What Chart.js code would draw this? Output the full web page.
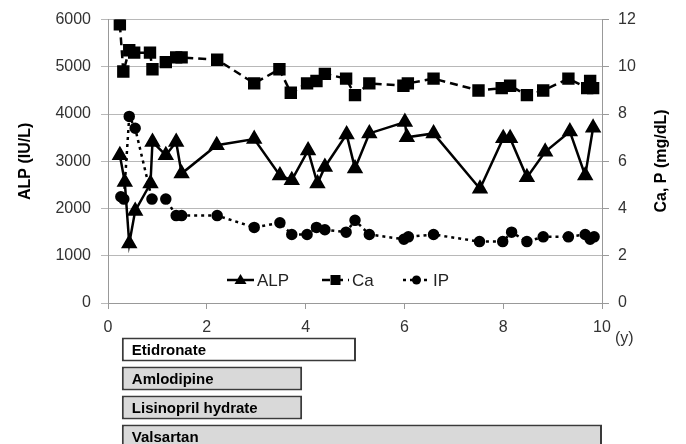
<!DOCTYPE html>
<html>
<head>
<meta charset="utf-8">
<script src="https://cdn.jsdelivr.net/npm/chart.js@4/dist/chart.umd.min.js"></script>
<style>
  html, body { margin: 0; padding: 0; background: #fff; }
  body { width: 686px; height: 444px; overflow: hidden; position: relative; }
  #main { position: absolute; left: 0; top: 0; }
  #drugs { position: absolute; left: 0; top: 335px; }
</style>
</head>
<body>
<canvas id="main" width="686" height="444"></canvas>
<canvas id="drugs" width="686" height="116"></canvas>
<script>
// years since start of treatment
const alpYears  = [0.24, 0.34, 0.43, 0.55, 0.86, 0.90, 1.17, 1.38, 1.49, 2.20, 2.96, 3.48, 3.72, 4.05, 4.24, 4.39, 4.83, 5.00, 5.29, 6.01, 6.05, 6.59, 7.53, 8.00, 8.14, 8.48, 8.85, 9.35, 9.66, 9.82];
const alpValues = [3130, 2560, 1260, 1950, 2530, 3410, 3130, 3410, 2740, 3340, 3470, 2700, 2600, 3230, 2530, 2880, 3570, 2850, 3590, 3830, 3510, 3590, 2420, 3490, 3490, 2660, 3200, 3630, 2700, 3710];

const caYears  = [0.24, 0.31, 0.43, 0.53, 0.85, 0.90, 1.17, 1.38, 1.49, 2.21, 2.96, 3.47, 3.70, 4.03, 4.22, 4.39, 4.82, 5.00, 5.29, 5.98, 6.07, 6.59, 7.50, 7.97, 8.14, 8.48, 8.81, 9.32, 9.70, 9.76, 9.82];
const caValues = [11.8, 9.8, 10.7, 10.6, 10.6, 9.9, 10.2, 10.4, 10.4, 10.3, 9.3, 9.9, 8.9, 9.3, 9.4, 9.7, 9.5, 8.8, 9.3, 9.2, 9.3, 9.5, 9.0, 9.1, 9.2, 8.8, 9.0, 9.5, 9.1, 9.4, 9.1];

const ipYears  = [0.26, 0.32, 0.43, 0.55, 0.89, 1.17, 1.38, 1.49, 2.21, 2.96, 3.48, 3.72, 4.03, 4.22, 4.39, 4.82, 5.00, 5.29, 5.99, 6.08, 6.59, 7.52, 7.99, 8.17, 8.48, 8.81, 9.32, 9.66, 9.76, 9.84];
const ipValues = [4.5, 4.4, 7.9, 7.4, 4.4, 4.4, 3.7, 3.7, 3.7, 3.2, 3.4, 2.9, 2.9, 3.2, 3.1, 3.0, 3.5, 2.9, 2.7, 2.8, 2.9, 2.6, 2.6, 3.0, 2.6, 2.8, 2.8, 2.9, 2.7, 2.8];

const yearTicks = [0, 2, 4, 6, 8, 10];
const alpTicks  = [0, 1000, 2000, 3000, 4000, 5000, 6000];
const mineralTicks = [0, 2, 4, 6, 8, 10, 12];

// medication periods
const drugNames  = ['Etidronate', 'Amlodipine', 'Lisinopril hydrate', 'Valsartan'];
const drugStarts = [0.28, 0.28, 0.28, 0.28];
const drugEnds   = [5.02, 3.93, 3.93, 10];

Chart.defaults.font.family = '"Liberation Sans", Arial, sans-serif';
Chart.defaults.color = '#333';

const pts = (xs, ys) => xs.map((x, i) => ({ x: x, y: ys[i] }));
const plain = v => String(v);

// legend drawn inside the plot, plus the right axis title and the "(y)" unit
const extrasPlugin = {
  id: 'extras',
  afterDraw(chart) {
    const ctx = chart.ctx;
    ctx.save();
    ctx.fillStyle = '#000';
    ctx.strokeStyle = '#000';

    const ly = 280;
    const items = [
      { x: 227, text: 'ALP', dash: [], marker: 'tri' },
      { x: 322, text: 'Ca', dash: [8, 5], marker: 'sq' },
      { x: 403, text: 'IP', dash: [3, 4], marker: 'dot' }
    ];
    ctx.font = '17px "Liberation Sans", Arial, sans-serif';
    ctx.textBaseline = 'middle';
    ctx.textAlign = 'left';
    items.forEach(it => {
      ctx.lineWidth = 2.5;
      ctx.setLineDash(it.dash);
      ctx.beginPath();
      ctx.moveTo(it.x, ly);
      ctx.lineTo(it.x + 27, ly);
      ctx.stroke();
      ctx.setLineDash([]);
      const cx = it.x + 13.5;
      ctx.beginPath();
      if (it.marker === 'tri') {
        ctx.moveTo(cx, ly - 6); ctx.lineTo(cx + 6, ly + 4); ctx.lineTo(cx - 6, ly + 4);
      } else if (it.marker === 'sq') {
        ctx.rect(cx - 5, ly - 5, 10, 10);
      } else {
        ctx.arc(cx, ly, 4.5, 0, Math.PI * 2);
      }
      ctx.closePath();
      ctx.fill();
      ctx.fillStyle = '#222';
      ctx.fillText(it.text, it.x + 30, ly + 1);
      ctx.fillStyle = '#000';
    });

    // right axis title, reading bottom to top
    ctx.font = 'bold 16px "Liberation Sans", Arial, sans-serif';
    ctx.textAlign = 'center';
    ctx.translate(662, 161);
    ctx.rotate(-Math.PI / 2);
    ctx.fillText('Ca, P (mg/dL)', 0, 0);
    ctx.restore();

    ctx.save();
    ctx.font = '16px "Liberation Sans", Arial, sans-serif';
    ctx.fillStyle = '#333';
    ctx.textAlign = 'left';
    ctx.textBaseline = 'middle';
    ctx.fillText('(y)', 615, 339);
    ctx.restore();
  }
};

new Chart(document.getElementById('main'), {
  type: 'line',
  data: {
    datasets: [
      {
        label: 'ALP',
        data: pts(alpYears, alpValues),
        yAxisID: 'yAlp',
        borderColor: '#000',
        backgroundColor: '#000',
        borderWidth: 2.5,
        pointStyle: 'triangle',
        pointRadius: 7,
        tension: 0
      },
      {
        label: 'Ca',
        data: pts(caYears, caValues),
        yAxisID: 'yMin',
        borderColor: '#000',
        backgroundColor: '#000',
        borderWidth: 2.5,
        borderDash: [8, 5],
        pointStyle: 'rect',
        pointRadius: 7,
        tension: 0
      },
      {
        label: 'IP',
        data: pts(ipYears, ipValues),
        yAxisID: 'yMin',
        borderColor: '#000',
        backgroundColor: '#000',
        borderWidth: 2.5,
        borderDash: [3, 4],
        pointStyle: 'circle',
        pointRadius: 4.5,
        tension: 0
      }
    ]
  },
  options: {
    responsive: false,
    animation: false,
    layout: { padding: { top: 19, bottom: 101, left: 0, right: 0 } },
    plugins: { legend: { display: false }, tooltip: { enabled: false } },
    scales: {
      x: {
        type: 'linear',
        min: 0, max: 10,
        afterBuildTicks: s => { s.ticks = yearTicks.map(v => ({ value: v })); },
        afterFit: s => { s.height = 40; },
        ticks: { padding: 9, font: { size: 16 }, color: '#333', callback: plain },
        grid: { drawOnChartArea: false, tickLength: 6, color: '#999' },
        border: { color: '#999' }
      },
      yAlp: {
        position: 'left',
        min: 0, max: 6000,
        afterBuildTicks: s => { s.ticks = alpTicks.map(v => ({ value: v })); },
        afterFit: s => { s.width = 108; },
        ticks: { padding: 10, font: { size: 16 }, color: '#333', callback: plain },
        grid: { color: '#b8b8b8', tickLength: 7 },
        border: { color: '#999' },
        title: { display: true, text: 'ALP (IU/L)', color: '#000', font: { size: 16, weight: 'bold' }, padding: { top: 16 } }
      },
      yMin: {
        position: 'right',
        min: 0, max: 12,
        afterBuildTicks: s => { s.ticks = mineralTicks.map(v => ({ value: v })); },
        afterFit: s => { s.width = 84; },
        ticks: { padding: 9, font: { size: 16 }, color: '#333', callback: plain },
        grid: { drawOnChartArea: false, tickLength: 7, color: '#999' },
        border: { color: '#999' }
      }
    }
  },
  plugins: [extrasPlugin]
});

// medication bars below the time axis, sharing the same 0-10 year span
const drugFills = drugNames.map((n, i) => i === 0 ? '#ffffff' : '#d9d9d9');

const drugLabelPlugin = {
  id: 'drugLabels',
  afterDatasetsDraw(chart) {
    const ctx = chart.ctx;
    const meta = chart.getDatasetMeta(0);
    ctx.save();
    ctx.font = 'bold 15px "Liberation Sans", Arial, sans-serif';
    ctx.fillStyle = '#000';
    ctx.textAlign = 'left';
    ctx.textBaseline = 'middle';
    meta.data.forEach((bar, i) => {
      ctx.fillText(drugNames[i], Math.min(bar.base, bar.x) + 10, bar.y + 1);
    });
    ctx.restore();
  }
};

new Chart(document.getElementById('drugs'), {
  type: 'bar',
  data: {
    labels: drugNames,
    datasets: [{
      data: drugStarts.map((s, i) => [s, drugEnds[i]]),
      backgroundColor: drugFills,
      borderColor: '#3a3a3a',
      borderWidth: 2,
      borderSkipped: false,
      barPercentage: 24 / 29,
      categoryPercentage: 1
    }]
  },
  options: {
    indexAxis: 'y',
    responsive: false,
    animation: false,
    layout: { padding: { left: 108, right: 84, top: 0, bottom: 0 } },
    plugins: { legend: { display: false }, tooltip: { enabled: false } },
    scales: {
      x: { type: 'linear', min: 0, max: 10, display: false },
      y: { display: false }
    }
  },
  plugins: [drugLabelPlugin]
});
</script>
</body>
</html>
